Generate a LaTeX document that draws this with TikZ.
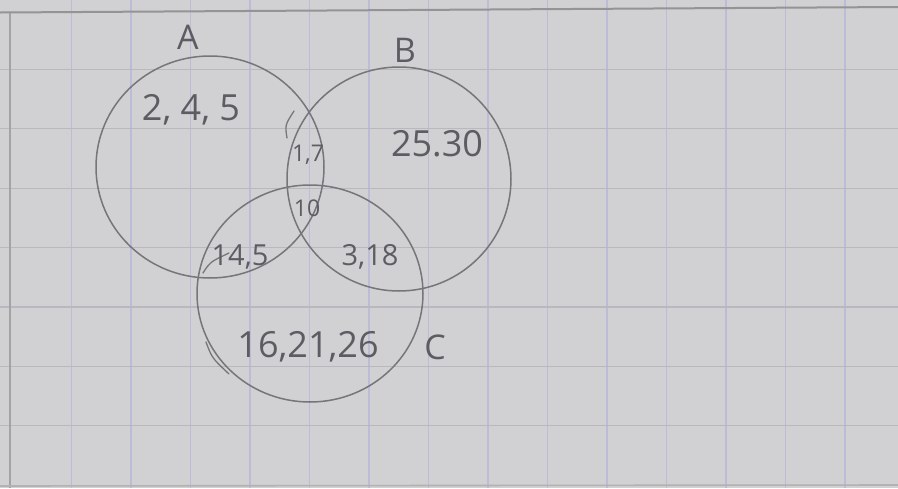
\documentclass[tikz,border=0pt]{standalone}
\usepackage{fontspec}
\setmainfont{Open Sans}
\definecolor{paper}{RGB}{209,208,210}
\definecolor{gridv}{RGB}{188,187,216}
\definecolor{gridh}{RGB}{184,184,190}
\definecolor{pencil}{RGB}{118,118,122}
\definecolor{ink}{RGB}{92,92,98}
\begin{document}
\begin{tikzpicture}[x=1pt,y=-1pt,
  vline/.style={gridv,line width=1.3pt},
  hline/.style={gridh,line width=1.3pt},
  setcircle/.style={pencil,line width=1.5pt},
  mark stroke/.style={pencil,line width=1.3pt,line cap=round},
  lbl/.style={ink,inner sep=0pt},
  big/.style={lbl,font=\fontsize{36}{40}\selectfont},
  letter/.style={lbl,font=\fontsize{34}{38}\selectfont},
  mid/.style={lbl,font=\fontsize{29}{32}\selectfont},
  small/.style={lbl,font=\fontsize{23}{26}\selectfont}]
\useasboundingbox (0,0) rectangle (898,488);
\fill[paper] (0,0) rectangle (898,488);
% graph paper
\foreach \i in {1,...,14} \draw[vline] ({12+59.5*\i},0) -- ({12+59.5*\i},488);
\foreach \j in {1,...,7} \draw[hline] (0,{10+59.4*\j}) -- (898,{10+59.4*\j});
\draw[gray!80!black!60,line width=1.6pt] (10,12) -- (10,488);
\draw[gray!80!black!70,line width=2pt] (0,12.5) -- (898,7);
\draw[gray!80!black!50,line width=1.6pt] (0,486) -- (898,485);
% sets
\draw[setcircle] (210,167) ellipse [x radius=114, y radius=111];
\draw[setcircle] (399,179) ellipse [x radius=112, y radius=112];
\draw[setcircle] (310,293.5) ellipse [x radius=113, y radius=108.5];
% extra pencil marks
\draw[mark stroke] (287,138) .. controls (285,125) .. (294,111);
\draw[mark stroke] (206,342) .. controls (212,358) .. (229,374);
\draw[mark stroke] (203,273) .. controls (210,262) .. (229,253);
% labels
\node[letter] (labA) at (188,37) {A};
\node[letter] (labB) at (405,50) {B};
\node[letter] (labC) at (435,347) {C};
\node[big] (onlyA) at (191,110) {2, 4, 5};
\node[big] (onlyB) at (437,144) {25.30};
\node[big] (onlyC) at (308,347) {16,21,26};
\node[small] (AB) at (308,155) {1,7};
\node[small] (ABC) at (307,208) {10};
\node[mid] (AC) at (240,257) {14,5};
\node[mid] (BC) at (370,257) {3,18};
\end{tikzpicture}
\end{document}
